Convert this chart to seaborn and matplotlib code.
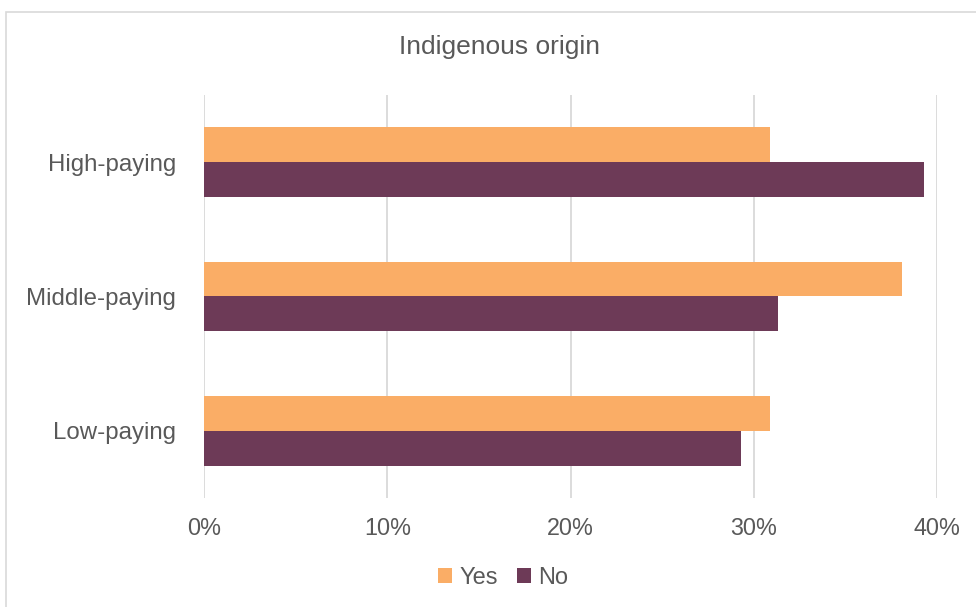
import matplotlib
matplotlib.use("Agg")
import matplotlib.pyplot as plt
from matplotlib.patches import Rectangle, Patch
import pandas as pd
import seaborn as sns

categories = ["High-paying", "Middle-paying", "Low-paying"]
yes_values = [30.9, 38.1, 30.9]
no_values = [39.3, 31.3, 29.3]
series = ["Yes", "No"]
colors = {"Yes": "#FAAD66", "No": "#6D3A57"}
x_ticks = [0, 10, 20, 30, 40]
x_tick_labels = ["0%", "10%", "20%", "30%", "40%"]
title = "Indigenous origin"

df = pd.DataFrame({
    "category": categories * 2,
    "share": yes_values + no_values,
    "origin": ["Yes"] * len(categories) + ["No"] * len(categories),
})

sns.set_theme(style="white")
plt.rcParams["font.family"] = ["Liberation Sans", "DejaVu Sans"]
text_color = "#595959"
grid_color = "#D9D9D9"

fig = plt.figure(figsize=(9.76, 6.07), dpi=100)
ax = fig.add_axes([204 / 976, 1 - 498 / 607, (937 - 204) / 976, (498 - 95) / 607])

sns.barplot(data=df, y="category", x="share", hue="origin", order=categories,
            hue_order=series, palette=colors, orient="h", width=0.52,
            ax=ax, legend=False, saturation=1, linewidth=0)

ax.set_xlim(0, 40)
ax.set_xticks(x_ticks)
ax.set_xticklabels(x_tick_labels)
ax.set_xlabel("")
ax.set_ylabel("")
ax.set_axisbelow(True)
ax.xaxis.grid(True, color=grid_color, linewidth=1.3)
ax.yaxis.grid(False)
for s in ax.spines.values():
    s.set_visible(False)
ax.tick_params(axis="x", length=0, pad=14, labelsize=16.8, labelcolor=text_color)
ax.tick_params(axis="y", length=0, pad=20, labelsize=17.3, labelcolor=text_color)
ax.set_ylim(2.5, -0.5)

fig.text(500 / 976, 1 - 47 / 607, title, ha="center", va="center",
         fontsize=19, color=text_color)

handles = [Patch(facecolor=colors[s], edgecolor="none") for s in series]
fig.legend(handles, series, loc="center", bbox_to_anchor=(503 / 976, 1 - 578 / 607),
           ncol=2, frameon=False, fontsize=17, labelcolor=text_color,
           handlelength=0.6, handleheight=0.6, handletextpad=0.3, columnspacing=0.8)

fig.patches.append(Rectangle((5.5 / 976, -0.1), 1.2, 1 - 11.5 / 607 + 0.1,
                             transform=fig.transFigure, fill=False,
                             edgecolor=grid_color, linewidth=1.2))

fig.savefig("out.png", dpi=100)
